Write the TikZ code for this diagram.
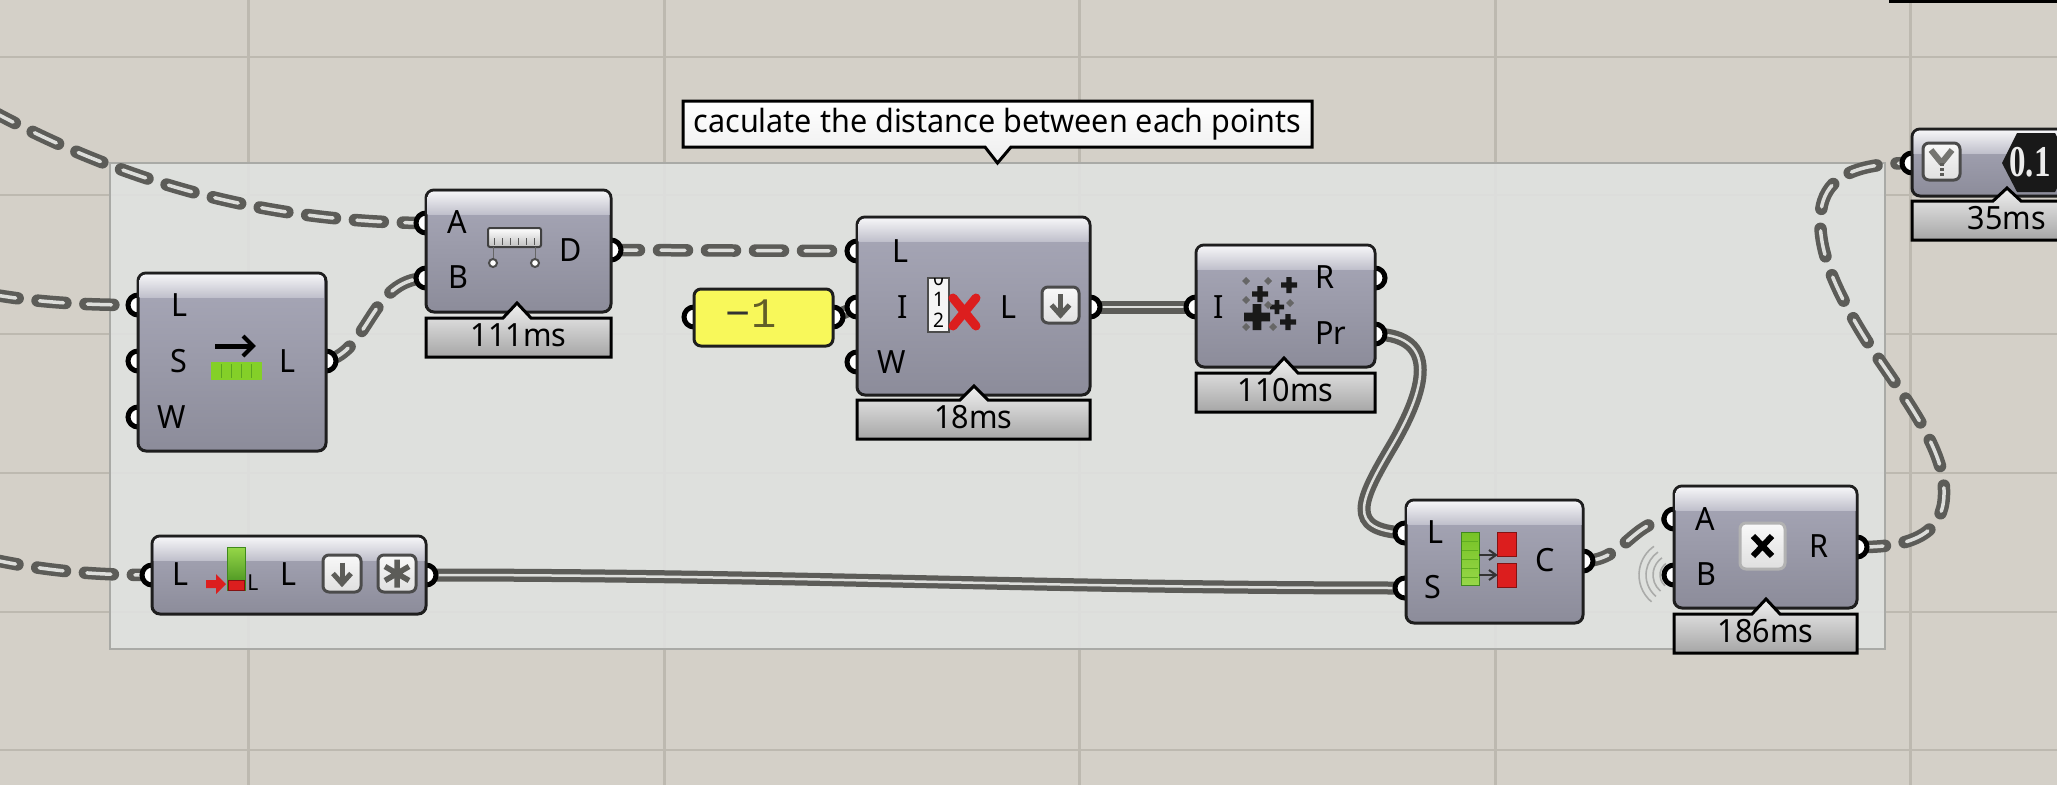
\documentclass[tikz,border=0pt]{standalone}
\usepackage{fontspec}
\setmainfont[FakeStretch=0.955]{Noto Sans}
\newfontfamily\monof{Liberation Mono}
\newfontfamily\hexf{Liberation Serif}
\usetikzlibrary{fit,calc}
\definecolor{canvas}{HTML}{D4D0C8}
\definecolor{gridc}{HTML}{BDB9B0}
\definecolor{groupc}{HTML}{E0E2E0}
\definecolor{groupb}{HTML}{A9AAA6}
\definecolor{wirec}{HTML}{5C5C58}
\definecolor{wirei}{HTML}{DDDEDB}
\definecolor{bodyt}{HTML}{A8A8B8}
\definecolor{bodyb}{HTML}{8C8C9A}
\definecolor{edgec}{HTML}{1E1E1E}
\definecolor{gbar}{HTML}{84D028}
\definecolor{gdark}{HTML}{3F8A1C}
\definecolor{rico}{HTML}{DC1E1E}
\definecolor{numc}{HTML}{F8F85A}
\pgfdeclarelayer{under}
\pgfdeclarelayer{wires}
\pgfsetlayers{under,wires,main}
\tikzset{
  gbox/.style={inner sep=0pt,outer sep=0pt,rounded corners=8pt,draw=edgec,line width=3pt,top color=bodyt,bottom color=bodyb},
  portc/.style={circle,draw=black,fill=white,line width=5pt,minimum size=20pt,inner sep=0pt},
  lbl/.style={inner sep=0pt,font=\fontsize{32}{38}\selectfont,text=black},
  wo/.style={draw=wirec,line width=12.5pt,line cap=round,dash pattern=on 28pt off 20pt},
  wi/.style={draw=wirei,line width=3.5pt,line cap=round,dash pattern=on 24pt off 24pt,dash phase=46pt},
  so/.style={draw=wirec,line width=13pt},
  si/.style={draw=wirei,line width=2.5pt},
  btn/.style={inner sep=0pt,outer sep=0pt,rounded corners=6pt,draw=edgec!80!white,line width=3pt,top color=white!95!gray,bottom color=white!75!gray},
  iconred/.style={fill=rico,draw=rico!60!black,line width=1pt},
}
\newcommand\comp[5]{%
  \node[gbox,fit={(#2,#3)(#4,#5)}] (#1) {};
  \begin{scope}
    \clip[rounded corners=6.5pt] ($(#2,#3)+(1.5,1.5)$) rectangle ($(#4,#5)+(-1.5,-1.5)$);
    \shade[top color=white!92!bodyt,bottom color=bodyt!72!white] (#2,#3) rectangle ($(#4,#3)+(0,24)$);
  \end{scope}}
\newcommand\port[3]{\node[portc] (#1) at (#2,#3) {};}
\newcommand\lab[4]{\node[lbl] (#1) at (#2,#3) {#4};}
% name x1 y1 x2 y2 apexx apexy text
\newcommand\gtag[8]{%
  \shade[draw=black,line width=3pt,top color=white!88!gray,bottom color=white!30!gray,line join=miter]
    (#2,#3) -- ($(#6,#3)+(-14,0)$) -- (#6,#7) -- ($(#6,#3)+(14,0)$) -- (#4,#3) -- (#4,#5) -- (#2,#5) -- cycle;
  \node[lbl] (#1) at ($(#2,#3)!0.5!(#4,#5)+(0,-2)$) {#8};}
\newcommand\dwire[1]{\draw[wo] #1; \draw[wi] #1;}
\newcommand\swire[1]{\draw[so] #1; \draw[si] #1;}
\newcommand\downbtn[1]{%
  \draw[wirec,line width=5pt] ($(#1)+(0,-11)$) -- ($(#1)+(0,9)$);
  \draw[wirec,line width=5pt,line join=miter] ($(#1)+(-9,0)$) -- ($(#1)+(0,10)$) -- ($(#1)+(9,0)$);}
\begin{document}
\begin{tikzpicture}[x=1pt,y=-1pt]
\useasboundingbox (0,0) rectangle (2057,785);
\clip (0,0) rectangle (2057,785);

\begin{pgfonlayer}{under}
\fill[canvas] (0,0) rectangle (2057,785);
\foreach \gx in {248,664,1079,1495,1910} \draw[gridc,line width=3pt] (\gx,0) -- (\gx,785);
\foreach \gy in {57,195,334,473,612,750} \draw[gridc,line width=2.5pt] (0,\gy) -- (2057,\gy);
\path[fill=groupc,fill opacity=0.9] (110,163) rectangle (1885,649);
\draw[groupb,line width=2.5pt] (110,163) rectangle (1885,649);
\fill[black] (1889,0) rectangle (2057,3);
\end{pgfonlayer}

% ports
\port{p1L}{138}{305}\port{p1S}{138}{361}\port{p1W}{138}{417}\port{p1O}{326}{361}
\port{p2A}{426}{223}\port{p2B}{426}{278}\port{p2D}{611}{250}
\port{pnI}{694}{317}\port{pnO}{833}{317}
\port{p3L}{857}{251}\port{p3I}{857}{307}\port{p3W}{857}{362}\port{p3O}{1090}{307}
\port{p4I}{1196}{307}\port{p4R}{1375}{278}\port{p4P}{1375}{334}
\port{p5L}{1405}{533}\port{p5S}{1405}{588}\port{p5C}{1583}{561}
\port{p6A}{1674}{519}\port{p6B}{1674}{575}\port{p6R}{1857}{547}
\port{p7I}{152}{575}\port{p7O}{426}{575}
\port{p8I}{1912}{163}

% free ends of the wires at the left edge
\coordinate (offA) at (-10,110);
\coordinate (offB) at (-10,294);
\coordinate (offC) at (-10,559);

\begin{pgfonlayer}{wires}
\dwire{(offA) .. controls (110,175) and (250,222) .. (p2A.center)}
\dwire{(offB) .. controls (40,303) and (90,305) .. (p1L.center)}
\dwire{(offC) .. controls (50,572) and (100,575) .. (p7I.center)}
\dwire{(p1O.center) .. controls (370,350) and (370,280) .. (p2B.center)}
\dwire{(p2D.center) -- (p3L.center)}
\swire{(pnO.center) -- (p3I.center)}
\swire{(p3O.center) -- (p4I.center)}
\swire{(p4P.center) .. controls (1440,336) and (1425,390) .. (1392,446) .. controls (1360,500) and (1345,530) .. (p5L.center)}
\swire{(p7O.center) .. controls (800,575) and (1030,588) .. (p5S.center)}
\dwire{(p5C.center) .. controls (1625,561) and (1632,519) .. (p6A.center)}
\dwire{(p6R.center) .. controls (1925,548) and (1945,525) .. (1944,490) .. controls (1943,440) and (1890,380) .. (1860,330) .. controls (1830,280) and (1815,240) .. (1822,205) .. controls (1828,180) and (1850,163) .. (p8I.center)}
\end{pgfonlayer}

% ripple round port B
\foreach \r in {14,21,28,35}
  \draw[gray,opacity=0.55,line width=1.6pt] (1674,575) ++(130:\r) arc[start angle=130,end angle=235,radius=\r];

% group callout
\shade[draw=black,line width=3pt,top color=white,bottom color=white!86!gray,line join=miter]
  (683,101) -- (1312,101) -- (1312,147) -- (1011,147) -- (997.5,163) -- (985,147) -- (683,147) -- cycle;
\node[lbl] (note) at (997.5,124) {caculate the distance between each points};

% shift list
\comp{c1}{138}{273}{326}{451}
\lab{c1l1}{180}{305}{L}\lab{c1l2}{179}{361}{S}\lab{c1l3}{172}{417}{W}\lab{c1l4}{288}{361}{L}
\draw[black,line width=5pt] (215,346) -- (250,346);
\draw[black,line width=4pt,line join=miter] (243,336) -- (253,346) -- (243,356);
\fill[gbar] (211,362) rectangle (262,380);
\foreach \i in {221,231,241,251} \draw[gdark!60!gbar,line width=1pt] (\i,364) -- (\i,378);

% distance
\comp{c2}{426}{190}{611}{312}
\gtag{t2}{426}{318}{611}{357}{517}{303}{111ms}
\lab{c2l1}{457}{222}{A}\lab{c2l2}{458}{277}{B}\lab{c2l3}{571}{250}{D}
\shade[draw=black!75,line width=2pt,rounded corners=2pt,top color=white,bottom color=gray!50] (488,228) rectangle (541,247);
\foreach \i in {494,502,510,518,526,534} \draw[gray!70!black,line width=1pt] (\i,238) -- (\i,245);
\draw[gray!80!black,line width=1pt] (493,247) -- (493,263) (535,247) -- (535,263);
\draw[black!70,fill=white,line width=2pt] (493,263) circle (4pt) (535,263) circle (4pt);

% number slider
\node[inner sep=0pt,outer sep=0pt,rounded corners=7pt,draw=edgec,line width=3pt,fill=numc,fit={(694,289)(833,346)}] (num) {};
\node[inner sep=0pt,font=\monof\fontsize{42}{46}\selectfont] (numt) at (751,314) {\textcolor{black!80}{−}\textcolor{olive!60!black}{1}};

% cull index
\comp{c3}{857}{217}{1090}{395}
\gtag{t3}{857}{400}{1090}{439}{974}{386}{18ms}
\lab{c3l1}{900}{251}{L}\lab{c3l2}{903}{307}{I}\lab{c3l3}{892}{362}{W}\lab{c3l4}{1008}{307}{L}
\fill[white!92!gray,draw=black!70,line width=1.5pt] (928,278) rectangle (949,332);
\begin{scope}
  \clip (928,278) rectangle (949,332);
  \node[inner sep=0pt,font=\bfseries\fontsize{20}{22}\selectfont] (c3z) at (938.5,278) {0};
\end{scope}
\node[inner sep=0pt,font=\bfseries\fontsize{20}{22}\selectfont] (c3a) at (938.5,299) {1};
\node[inner sep=0pt,font=\bfseries\fontsize{20}{22}\selectfont] (c3b) at (938.5,320) {2};
\draw[rico,line width=9pt,line cap=round] (953,298) -- (976,326) (976,298) -- (953,326);
\node[btn,fit={(1042,287)(1079,323)}] (c3d) {};
\downbtn{c3d}

% random/dispatch
\comp{c4}{1196}{245}{1375}{367}
\gtag{t4}{1196}{373}{1375}{412}{1284}{358}{110ms}
\lab{c4l1}{1219}{307}{I}\lab{c4l2}{1325}{277}{R}\lab{c4l3}{1331}{333}{Pr}
\foreach \px/\py/\ps in {1257/317/13,1289/285/8,1260/294/8,1277/307/7,1288/322/8}
  \fill[black!90] (\px-\ps,\py-\ps/3) rectangle (\px+\ps,\py+\ps/3) (\px-\ps/3,\py-\ps) rectangle (\px+\ps/3,\py+\ps);
\foreach \px/\py in {1246/281,1268/281,1246/300,1290/303,1246/327,1273/327,1268/305}
  \fill[black!60] (\px-4,\py) -- (\px,\py-4) -- (\px+4,\py) -- (\px,\py+4) -- cycle;

% split list
\comp{c5}{1406}{500}{1583}{623}
\lab{c5l1}{1435}{532}{L}\lab{c5l2}{1433}{587}{S}\lab{c5l3}{1545}{560}{C}
\shade[top color=gbar!80!gdark,bottom color=gbar!85!white,draw=gdark,line width=1pt] (1461,532) rectangle (1479,585);
\foreach \i in {541,550,559,568,577} \draw[gdark!50!gbar,line width=1pt] (1462,\i) -- (1478,\i);
\fill[iconred] (1497,532) rectangle (1516,556) (1497,563) rectangle (1516,587);
\draw[black!80,line width=2.5pt] (1479,555) -- (1494,555) (1479,575) -- (1494,575);
\draw[black!80,line width=2pt,line join=miter] (1489,550) -- (1496,555) -- (1489,560) (1489,570) -- (1496,575) -- (1489,580);

% multiply
\comp{c6}{1674}{486}{1857}{608}
\gtag{t6}{1674}{614}{1857}{653}{1766}{599}{186ms}
\lab{c6l1}{1705}{519}{A}\lab{c6l2}{1706}{574}{B}\lab{c6l3}{1819}{546}{R}
\node[btn,fit={(1740,523)(1785,569)},draw=gray!60] (c6b) {};
\draw[black,line width=6pt] (1753,536) -- (1772,556) (1772,536) -- (1753,556);

% list item
\comp{c7}{152}{536}{426}{614}
\lab{c7l1}{181}{574}{L}\lab{c7l2}{289}{574}{L}
\shade[top color=gbar!85!white,bottom color=gdark,draw=gdark,line width=1pt] (227,547) rectangle (245,590);
\fill[iconred] (228,580) rectangle (244,590);
\fill[rico] (206,580) rectangle (216,588) (216,574) -- (226,584) -- (216,594) -- cycle;
\node[inner sep=0pt,font=\bfseries\fontsize{22}{24}\selectfont] (c7s) at (253,583) {L};
\node[btn,fit={(323,555)(361,592)}] (c7d) {};
\downbtn{c7d}
\node[btn,fit={(378,555)(416,592)}] (c7g) {};
\draw[wirec,line width=5.5pt] ($(c7g)+(0,-14)$) -- ($(c7g)+(0,14)$) ($(c7g)+(-12,-7)$) -- ($(c7g)+(12,7)$) ($(c7g)+(-12,7)$) -- ($(c7g)+(12,-7)$);

% top-right component
\comp{c8}{1912}{129}{2102}{196}
\gtag{t8}{1912}{201}{2102}{240}{2007}{188}{35ms}
\node[btn,fit={(1923,143)(1960,180)}] (c8b) {};
\draw[wirec!85!white,line width=6pt,line join=round] (1931,150) -- (1941.5,163) -- (1952,150);
\draw[wirec,line width=4pt,dash pattern=on 3pt off 2pt] (1941.5,163) -- (1941.5,176);
\fill[black!90] (2002,163) -- (2017,133) -- (2055,133) -- (2070,163) -- (2055,192) -- (2017,192) -- cycle;
\node[inner sep=0pt,text=white!85!gray,xscale=0.75,transform shape,font=\hexf\bfseries\fontsize{44}{48}\selectfont] (c8h) at (2030,162) {0.1};
\end{tikzpicture}
\end{document}
